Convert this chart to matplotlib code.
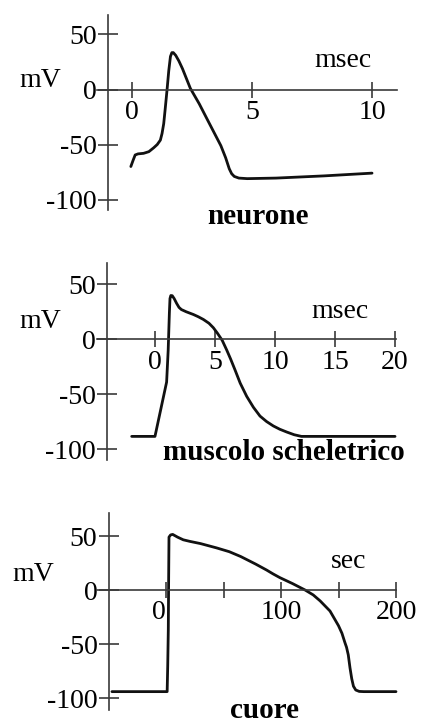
import matplotlib
matplotlib.use("Agg")
from matplotlib import pyplot as plt

plt.rcParams['font.family'] = ['Liberation Serif', 'DejaVu Serif']

# dati (tempo, potenziale in mV)
neu_t = [-0.05, 0.05, 0.13, 0.25, 0.48, 0.7, 0.9, 1.05, 1.18, 1.25, 1.32, 1.38, 1.46, 1.53, 1.6, 1.66,
         1.72, 1.82, 1.95, 2.1, 2.43, 2.8, 3.13, 3.7, 3.9, 4.05, 4.15, 4.26, 4.45, 4.8, 6.0, 8.0, 10.0]
neu_v = [-70, -64, -59.5, -58.5, -58, -56.5, -53, -50, -46, -40, -31, -18, 0, 17, 30, 33.5,
         33.5, 31, 26, 19, 1, -13, -27, -51, -62, -72, -76.5, -79, -80.5, -81, -80.5, -78.5, -76]

mus_t = [-1.94, 0.0, 0.5, 0.97, 1.1, 1.2, 1.25, 1.32, 1.44, 1.6, 1.8, 2.0, 2.2, 2.6, 3.2, 3.6, 4.03, 4.5,
         4.86, 5.2, 5.6, 5.97, 6.3, 6.67, 7.1, 7.64, 8.2, 8.75, 9.3, 9.86, 10.4, 10.97, 11.6, 12.2, 20.0]
mus_v = [-88.5, -88.5, -63, -39, -10, 24, 37, 39.8, 39.6, 37, 32.7, 29, 27, 25, 22.5, 20.5, 18, 14.5,
         10.5, 5.5, -1, -9.7, -18, -28, -40, -52, -62, -70, -75, -79, -82, -84.5, -87, -88.5, -88.5]

cuo_t = [-47, 1.0, 1.5, 2.0, 2.3, 2.6, 4.0, 5.8, 10, 15, 20.9, 30, 44, 55, 65, 78, 87.5, 93, 99, 110,
         121, 128, 134, 142.6, 150, 153, 155.6, 157, 158.5, 160, 161.5, 163, 165, 168, 172, 200]
cuo_v = [-94, -94, -70, -37, 10, 49, 51, 51.5, 49, 46.5, 45, 43, 39, 35.5, 31, 24, 18.5, 15, 11.5, 6,
         0, -4.5, -10, -19.4, -33, -40, -48.7, -53, -60, -72, -82, -89, -92.5, -93.8, -94, -94]

yticks = [50, 0, -50, -100]
neu_xticks = [0, 5, 10]
mus_xticks = [0, 5, 10, 15, 20]
cuo_xticks = [0, 50, 100, 150, 200]
cuo_xlabels = ['0', '', '100', '', '200']

W, H = 423, 727
fig = plt.figure(figsize=(W / 100, H / 100), dpi=100)

asse = '#3a3a3a'
fs = 20


def pannello(rect, xlim, ylim, yaxis_x, t, v, xticks, xlabels, unit, unit_xy, mv_xy, title, title_xy):
    l, top, r, b = rect
    ax = fig.add_axes([l / W, 1 - b / H, (r - l) / W, (b - top) / H])
    ax.set_xlim(xlim)
    ax.set_ylim(ylim)
    ax.patch.set_alpha(0)
    for s in ['top', 'right']:
        ax.spines[s].set_visible(False)
    ax.spines['left'].set_position(('data', yaxis_x))
    ax.spines['bottom'].set_position(('data', 0))
    for s in ['left', 'bottom']:
        ax.spines[s].set_color(asse)
        ax.spines[s].set_linewidth(1.2)
    ax.set_yticks(yticks)
    ax.set_yticklabels([str(y) for y in yticks])
    ax.set_xticks(xticks)
    ax.set_xticklabels(xlabels)
    ax.tick_params(axis='y', direction='inout', length=14, width=1.2, color=asse, pad=1, labelsize=fs)
    ax.tick_params(axis='x', direction='inout', length=11, width=1.2, color=asse, pad=2, labelsize=fs)
    ax.plot(t, v, color='#111111', lw=2.0, solid_joinstyle='round', solid_capstyle='round', clip_on=False)
    ax.text(unit_xy[0], unit_xy[1], unit, fontsize=fs, ha='center', va='center')
    ax.text(mv_xy[0], mv_xy[1], 'mV', fontsize=fs, ha='center', va='center', clip_on=False)
    ax.text(title_xy[0], title_xy[1], title, fontsize=21, fontweight='bold', ha='center', va='center', clip_on=False)
    return ax


pannello((97, 15, 397, 210), (-1.46, 11.04), (-109.5, 67.7), -1, neu_t, neu_v,
         neu_xticks, [str(x) for x in neu_xticks], 'msec', (8.8, 26), (-3.83, 8),
         'neurone', (5.25, -115.5))

pannello((97, 263, 396, 460), (-4.83, 20.08), (-110, 69.4), -4, mus_t, mus_v,
         mus_xticks, [str(x) for x in mus_xticks], 'msec', (15.4, 25), (-9.6, 16),
         'muscolo scheletrico', (10.7, -103.4))

ax3 = pannello((97, 513, 396, 710), (-60, 200), (-111, 71.3), -50, cuo_t, cuo_v,
               cuo_xticks, cuo_xlabels, 'sec', (159, 26), (-115.6, 14),
               'cuore', (86, -111.5))
ax3.get_xticklabels()[0].set_horizontalalignment('right')

fig.savefig('out.png', dpi=100)
